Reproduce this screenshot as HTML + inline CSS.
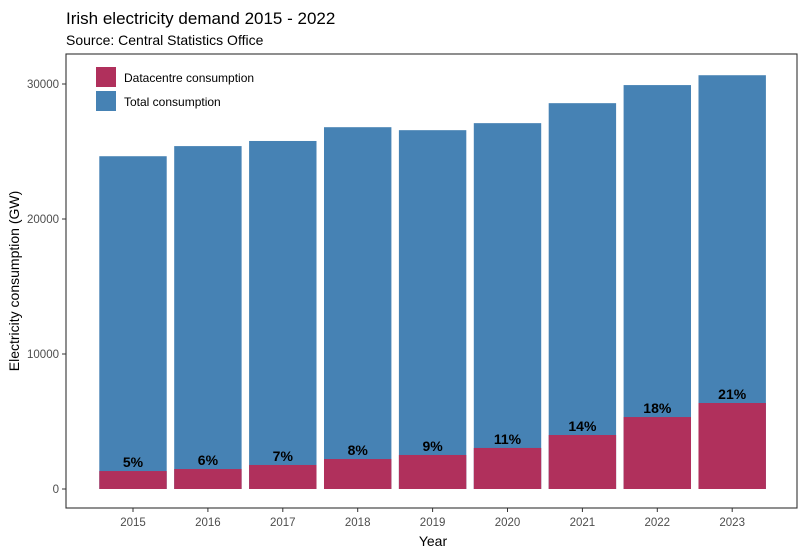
<!DOCTYPE html>
<html><head><meta charset="utf-8">
<style>
body{margin:0;background:#fff;font-family:"Liberation Sans",Arial,sans-serif;}
svg text{font-family:"Liberation Sans",Arial,sans-serif;}
</style></head>
<body>
<svg id="chart" width="807" height="555" xmlns="http://www.w3.org/2000/svg">
<rect width="807" height="555" fill="#fff"/>
<text x="66" y="24" font-size="17" fill="#000">Irish electricity demand 2015 - 2022</text>
<text x="66" y="45" font-size="14" fill="#000">Source: Central Statistics Office</text>
<g id="plot"></g>
<rect x="66" y="54" width="731" height="454" fill="none" stroke="#333" stroke-width="1.1"/>
<text x="433" y="546" font-size="14" text-anchor="middle">Year</text>
<text transform="translate(19,281) rotate(-90)" font-size="14" text-anchor="middle">Electricity consumption (GW)</text>
<g>
<rect x="96" y="67" width="20" height="20" fill="#B0305C"/>
<text x="124" y="82" font-size="12">Datacentre consumption</text>
<rect x="96" y="91" width="20" height="20" fill="#4682B4"/>
<text x="124" y="106" font-size="12">Total consumption</text>
</g>
</svg>
<script>
const years=["2015","2016","2017","2018","2019","2020","2021","2022","2023"];
const totalValues=[24650,25400,25780,26800,26580,27100,28580,29920,30650];
const datacentreValues=[1330,1480,1780,2220,2520,3040,4000,5330,6370];
const pctLabels=["5%","6%","7%","8%","9%","11%","14%","18%","21%"];
const yTicks=[0,10000,20000,30000];

const NS="http://www.w3.org/2000/svg";
const g=document.getElementById('plot');
const y=v=>489-v*0.0135;
const step=74.9;
const x=i=>133+i*step;
const bw=step*0.9;
function mk(t,a){const e=document.createElementNS(NS,t);for(const k in a)e.setAttribute(k,a[k]);g.appendChild(e);return e;}
yTicks.forEach(t=>{
  const l=mk('line',{x1:62,x2:66,y1:y(t),y2:y(t),stroke:'#333'});
  
  
  const tx=mk('text',{x:59,y:y(t)+4,'font-size':11.5,fill:'#4d4d4d','text-anchor':'end'});
  tx.textContent=t;
  
  
});
years.forEach((yr,i)=>{
  const b=mk('rect',{x:x(i)-bw/2,y:y(totalValues[i]),width:bw,height:y(0)-y(totalValues[i]),fill:'#4682B4'});
  
  
  const d=mk('rect',{x:x(i)-bw/2,y:y(datacentreValues[i]),width:bw,height:y(0)-y(datacentreValues[i]),fill:'#B0305C'});
  
  
  const p=mk('text',{x:x(i),y:y(datacentreValues[i])-4,'font-size':14,'font-weight':'bold','text-anchor':'middle'});
  p.textContent=pctLabels[i];
  
  
  const tk=mk('line',{x1:x(i),x2:x(i),y1:508,y2:512,stroke:'#333'});
  
  
  const tl=mk('text',{x:x(i),y:526,'font-size':11.5,fill:'#4d4d4d','text-anchor':'middle'});
  tl.textContent=yr;
  
  
});
</script>
</body></html>
